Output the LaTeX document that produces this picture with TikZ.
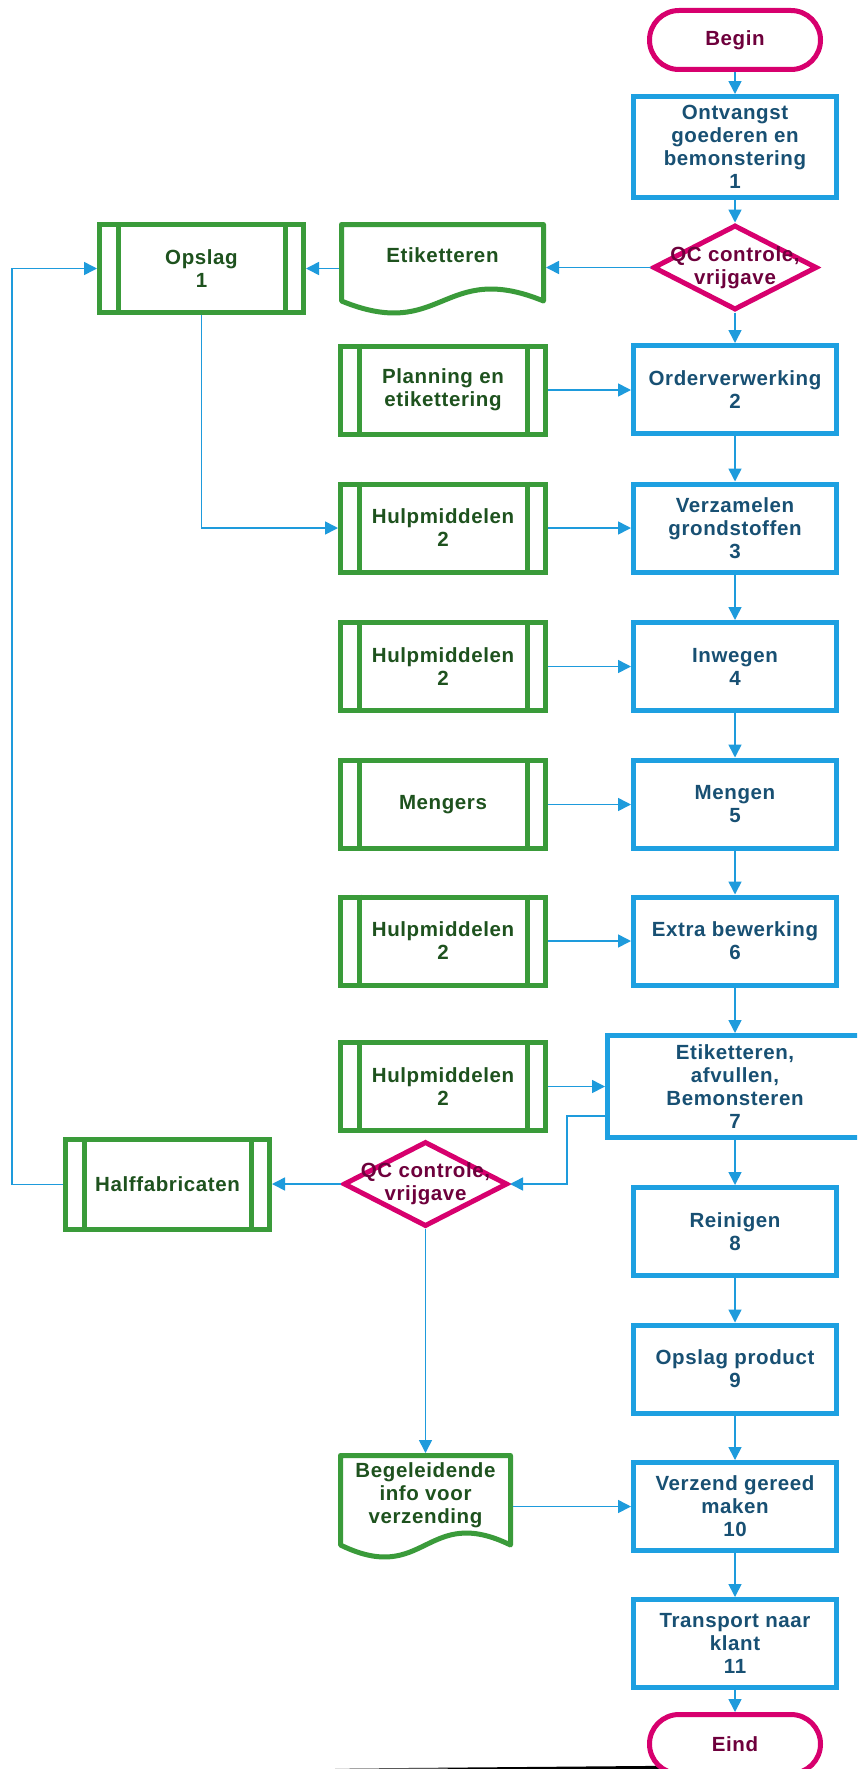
\documentclass[tikz,border=0pt]{standalone}
\usepackage{fontspec}
\setmainfont{Liberation Sans}[LetterSpace=3]
\usetikzlibrary{shapes.geometric,arrows.meta,calc}
\definecolor{pblue}{RGB}{30,160,225}
\definecolor{pbluetext}{RGB}{24,80,115}
\definecolor{pgreen}{RGB}{58,155,58}
\definecolor{pgreentext}{RGB}{30,82,30}
\definecolor{pmag}{RGB}{215,0,110}
\definecolor{pmagtext}{RGB}{110,0,60}
\definecolor{pline}{RGB}{30,155,220}
\begin{document}
\begin{tikzpicture}[x=1pt,y=-1pt,
  lbl/.style={font=\fontsize{20.5}{23}\selectfont\bfseries, align=center},
  procbox/.style={lbl, draw=pblue, line width=5pt, fill=white, text=pbluetext, minimum width=203pt, minimum height=88pt, inner sep=0pt},
  predef/.style={lbl, draw=pgreen, line width=5pt, fill=white, text=pgreentext, minimum width=205pt, minimum height=88pt, inner sep=0pt},
  termbox/.style={lbl, draw=pmag, line width=5pt, fill=white, text=pmagtext, minimum width=171pt, minimum height=59pt, rounded corners=29.5pt, inner sep=0pt},
  decbox/.style={diamond, draw=pmag, line width=5pt, fill=white, minimum width=164pt, minimum height=85pt, inner sep=0pt},
  dectext/.style={lbl, text=pmagtext},
  docline/.style={draw=pgreen, line width=5pt, fill=white, line join=round},
  doctext/.style={lbl, text=pgreentext, inner sep=0pt, outer sep=0pt},
  conn/.style={draw=pline, line width=1.6pt, -{Triangle[length=13pt,width=13pt]}},
  innerline/.style={draw=pgreen, line width=5pt}
  ]
\useasboundingbox (0,0) rectangle (857,1769);
\clip (0,0) rectangle (857,1769);
\fill[white] (0,0) rectangle (857,1769);

% bottom shadow line
\fill[black] (335,1768.6) -- (690,1765.6) -- (690,1769) -- cycle;

% right column
\node[termbox] (begin) at (735,40) {Begin};
\node[procbox, minimum height=101pt] (b1) at (735,147) {Ontvangst\\goederen en\\bemonstering\\1};
\node[decbox] (d1) at (735,267.5) {};
\node[dectext] (d1t) at (d1.center) {QC controle,\\vrijgave};
\node[procbox] (ord) at (735,389.5) {Orderverwerking\\2};
\node[procbox] (ver) at (735,528) {Verzamelen\\grondstoffen\\3};
\node[procbox] (inw) at (735,666.5) {Inwegen\\4};
\node[procbox] (mgn) at (735,804) {Mengen\\5};
\node[procbox] (ext) at (735,941) {Extra bewerking\\6};
\node[procbox, minimum width=255pt, minimum height=102pt] (b7) at (735,1086.5) {Etiketteren,\\afvullen,\\Bemonsteren\\7};
\node[procbox] (rein) at (735,1231.5) {Reinigen\\8};
\node[procbox] (opp) at (735,1369) {Opslag product\\9};
\node[procbox] (vzd) at (735,1506.5) {Verzend gereed\\maken\\10};
\node[procbox] (trn) at (735,1643.5) {Transport naar\\klant\\11};
\node[termbox] (eind) at (735,1744) {Eind};

% middle column
\path[docline] (341.5,224.5) -- (543.5,224.5) -- (543.5,301) .. controls (442.5,259.5) and (442.5,342.5) .. (341.5,301) -- cycle;
\node[doctext, minimum width=207pt, minimum height=66pt] (etik) at (442.5,255) {Etiketteren};
\node[predef] (plan) at (443,390) {Planning en\\etikettering};
\node[predef] (hm1) at (443,528) {Hulpmiddelen\\2};
\node[predef] (hm2) at (443,666.5) {Hulpmiddelen\\2};
\node[predef] (meng) at (443,804.5) {Mengers};
\node[predef] (hm3) at (443,941) {Hulpmiddelen\\2};
\node[predef] (hm4) at (443,1086.5) {Hulpmiddelen\\2};
\node[decbox] (d2) at (425.5,1184) {};
\node[dectext] (d2t) at (d2.center) {QC controle,\\vrijgave};
\path[docline] (340.5,1455.5) -- (510.5,1455.5) -- (510.5,1545) .. controls (425.5,1503.5) and (425.5,1586.5) .. (340.5,1545) -- cycle;
\node[doctext, minimum width=175pt, minimum height=84pt] (beg) at (425.5,1495) {Begeleidende\\info voor\\verzending};

% left column
\node[predef, minimum width=204pt] (op1) at (201.5,268.5) {Opslag\\1};
\node[predef, minimum width=204pt, minimum height=90pt] (half) at (167.5,1184.5) {Halffabricaten};

% inner lines of predefined processes
\foreach \n in {op1,plan,hm1,hm2,meng,hm3,hm4,half}{
  \draw[innerline] ([xshift=21pt]\n.north west) -- ([xshift=21pt]\n.south west);
  \draw[innerline] ([xshift=-21pt]\n.north east) -- ([xshift=-21pt]\n.south east);
}

% connectors
\draw[conn] (begin.south) -- (b1.north);
\draw[conn] (b1.south) -- (d1.north);
\draw[conn] (d1.west) -- (d1.west -| etik.east);
\draw[conn] (op1.east -| etik.west) -- (op1.east);
\draw[conn] (d1.south) -- (ord.north);
\draw[conn] (plan.east) -- (plan.east -| ord.west);
\draw[conn] (ord.south) -- (ver.north);
\draw[conn] (op1.south) |- (hm1.west);
\draw[conn] (hm1.east) -- (hm1.east -| ver.west);
\draw[conn] (ver.south) -- (inw.north);
\draw[conn] (hm2.east) -- (hm2.east -| inw.west);
\draw[conn] (inw.south) -- (mgn.north);
\draw[conn] (meng.east) -- (meng.east -| mgn.west);
\draw[conn] (mgn.south) -- (ext.north);
\draw[conn] (hm3.east) -- (hm3.east -| ext.west);
\draw[conn] (ext.south) -- (b7.north);
\draw[conn] (hm4.east) -- (hm4.east -| b7.west);
\draw[conn] ([yshift=-29.5pt]b7.west) -- ++(-38,0) |- (d2.east);
\draw[conn] (d2.west) -- (d2.west -| half.east);
\draw[conn] (half.west) -- ++(-51,0) |- (op1.west);
\draw[conn] (d2.south) -- (beg.north);
\draw[conn] (vzd.west -| beg.east) -- (vzd.west);
\draw[conn] (b7.south) -- (rein.north);
\draw[conn] (rein.south) -- (opp.north);
\draw[conn] (opp.south) -- (vzd.north);
\draw[conn] (vzd.south) -- (trn.north);
\draw[conn] (trn.south) -- (eind.north);
\end{tikzpicture}
\end{document}
